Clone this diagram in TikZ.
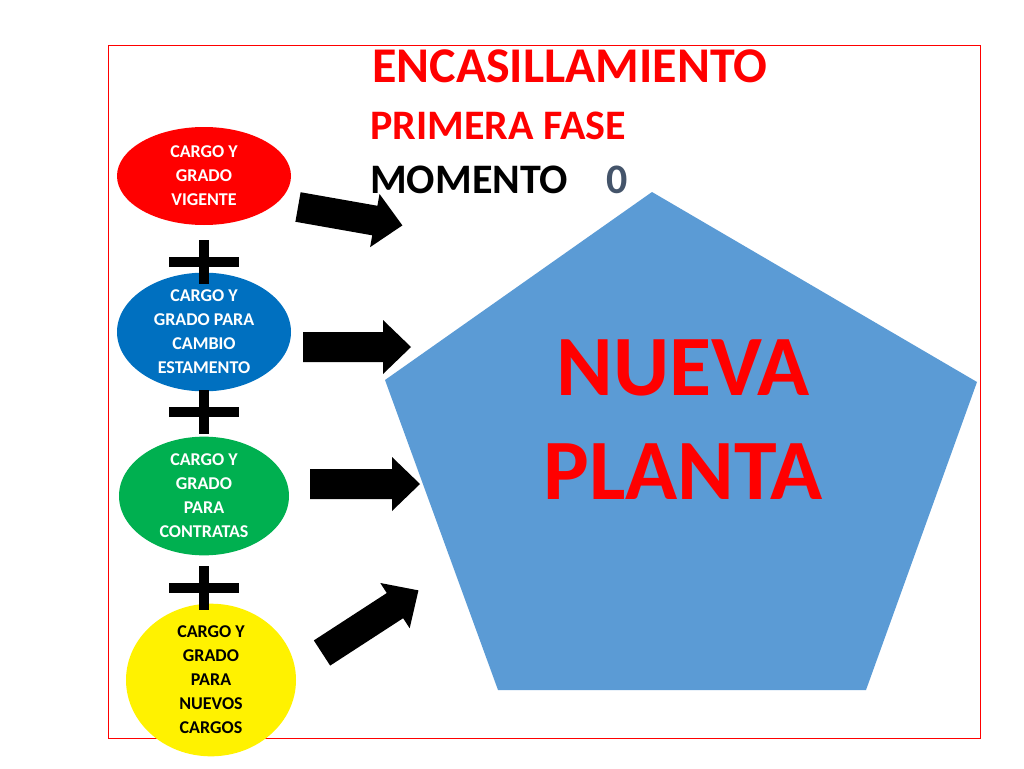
\documentclass[tikz,border=0pt]{standalone}
\usepackage{fontspec}
\setmainfont{Carlito}
\usetikzlibrary{shapes.geometric}
\definecolor{pentablue}{HTML}{5B9BD5}
\definecolor{zerogray}{HTML}{44546A}
\definecolor{ovalblue}{HTML}{0070C0}
\definecolor{ovalgreen}{HTML}{00B050}
\tikzset{
  oval/.style={ellipse, minimum width=174pt, minimum height=98pt, inner sep=0pt,
    align=center, font=\bfseries\fontsize{18}{24}\selectfont},
  plussign/.style={line width=10pt}
}
% block arrow: x, y, angle, length
\newcommand{\blockarrow}[4]{%
  \fill[black, shift={(#1,#2)}, rotate=#3]
    (0,-15) -- (#4-28,-15) -- (#4-28,-27) -- (#4,0) -- (#4-28,27) -- (#4-28,15) -- (0,15) -- cycle;}
\begin{document}
\begin{tikzpicture}[x=1pt, y=-1pt]
        \useasboundingbox (0,0) rectangle (1024,768);
        \draw[red, thin] (108,45) rectangle (980,738);

        % titles
        \node[anchor=base west, red, font=\bfseries\fontsize{50}{50}\selectfont, inner sep=0pt] (title) at (372,82) {ENCASILLAMIENTO};
        \node[anchor=base west, red, font=\bfseries\fontsize{42}{42}\selectfont, inner sep=0pt] (phase) at (370,139) {PRIMERA FASE};
        \node[anchor=base west, font=\bfseries\fontsize{42}{42}\selectfont, inner sep=0pt] (moment) at (370,193) {MOMENTO\hspace{0.9em}\textcolor{zerogray}{0}};

        % pentagon
        \fill[pentablue] (652,192) -- (977,382) -- (866,690) -- (498,690) -- (385,380) -- cycle;
        \node[red, align=center, font=\bfseries\fontsize{86}{104}\selectfont] (plant) at (683,420) {NUEVA\\PLANTA};

        % ovals
        \node[oval, fill=red, text=white] (current) at (204,176) {CARGO Y\\GRADO\\VIGENTE};
        \node[oval, fill=ovalblue, text=white, minimum height=90pt] (status) at (204,332) {CARGO Y\\GRADO PARA\\CAMBIO\\ESTAMENTO};
        \node[oval, fill=ovalgreen, text=white, minimum width=170pt, minimum height=100pt] (contract) at (204,496) {CARGO Y\\GRADO\\PARA\\CONTRATAS};
        \node[oval, fill=yellow, text=black, minimum width=170pt, minimum height=118pt] (newjobs) at (211,680) {CARGO Y\\GRADO\\PARA\\NUEVOS\\CARGOS};

        % plus signs
        \foreach \py in {262,412,588}
          \draw[plussign] (169,\py) -- (239,\py) (204,\py-22) -- (204,\py+22);

        % arrows
        \blockarrow{298}{207}{-10}{106}
        \blockarrow{303}{347}{0}{108}
        \blockarrow{310}{484}{0}{110}
        \blockarrow{322}{653}{33}{115}
    \end{tikzpicture}
\end{document}
